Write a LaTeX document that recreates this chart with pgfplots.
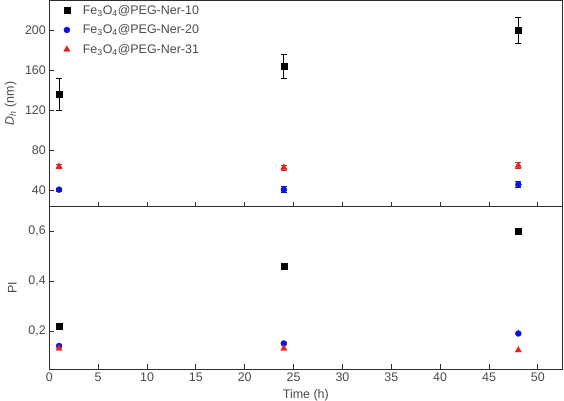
\documentclass[border=0pt]{standalone}
\usepackage{fontspec}
\setmainfont{Liberation Sans}
\usepackage{pgfplots}
\pgfplotsset{compat=1.18}

\definecolor{axgray}{HTML}{2E2E2E}
\definecolor{txtgray}{HTML}{4A4A4A}
\definecolor{ored}{HTML}{E8201C}
\definecolor{oblue}{HTML}{0A14E6}

\newcommand{\lblfont}{\fontsize{12.5}{14}\selectfont}

\pgfplotsset{
  panel/.style={
    scale only axis, width=513bp,
    xmin=0, xmax=52.5, xtick={0,5,...,50},
    tick align=inside, xtick pos=bottom, ytick pos=left,
    minor tick num=0,
    axis line style={axgray, line width=0.8pt},
    major tick style={axgray, line width=0.8pt},
    major tick length=5bp,
    tick label style={font=\lblfont, text=txtgray},
    /pgf/number format/assume math mode=true,
    every axis plot/.append style={only marks},
  },
  errs/.style={error bars/.cd, y dir=both, y explicit,
    error bar style={line width=0.8pt, #1},
    error mark options={rotate=90, mark size=3bp, line width=0.8pt, #1}},
  sq/.style={mark=square*, mark size=2.9bp, black, mark options={fill=black}},
  ci/.style={mark=*, mark size=3bp, oblue, mark options={fill=oblue}},
  tr/.style={mark=triangle*, mark size=3.6bp, ored, mark options={fill=ored}},
}

\begin{document}
\begin{tikzpicture}
\useasboundingbox (-49.3bp,-32bp) rectangle (514.7bp,369bp);

% upper panel: hydrodynamic diameter
\begin{axis}[panel,
  at={(0bp,162.3bp)}, anchor=south west, height=206.7bp,
  ymin=24, ymax=230, ytick={40,80,...,200},
  xticklabels={},
  ylabel={\textit{D}\textsubscript{\textit{h}} (nm)},
  every axis y label/.style={at={(axis description cs:-0.0755,0.5)}, rotate=90, anchor=center, font=\lblfont, text=txtgray},
  legend image code/.code={\path[draw=none,fill=none] (-14bp,-4bp) rectangle (14bp,4bp); \draw[#1] plot coordinates {(0bp,0bp)};},
  legend style={at={(axis description cs:0,1)}, anchor=north west, xshift=3.4bp, yshift=-3bp,
    draw=none, fill=none, inner sep=0pt, row sep=5bp,
    font=\lblfont, text=txtgray, cells={anchor=west}},
]
\addplot+[sq, errs=black] coordinates {
  (1,136) +- (0,16)
  (24,164) +- (0,12)
  (48,200) +- (0,13)
};
\addlegendentry{Fe\textsubscript{3}O\textsubscript{4}@PEG-Ner-10}
\addplot+[ci, errs=oblue] coordinates {
  (1,41) +- (0,1.5)
  (24,41) +- (0,3)
  (48,46) +- (0,3)
};
\addlegendentry{Fe\textsubscript{3}O\textsubscript{4}@PEG-Ner-20}
\addplot+[tr, errs=ored] coordinates {
  (1,64) +- (0,2)
  (24,63) +- (0,2.5)
  (48,65) +- (0,3)
};
\addlegendentry{Fe\textsubscript{3}O\textsubscript{4}@PEG-Ner-31}
\end{axis}

% lower panel: polydispersity index
\begin{axis}[panel,
  at={(0bp,0bp)}, anchor=south west, height=162.3bp,
  ymin=0.048, ymax=0.697, ytick={0.2,0.4,0.6},
  yticklabel style={/pgf/number format/.cd, fixed, fixed zerofill, precision=1, use comma},
  xlabel={Time (h)}, ylabel={PI},
  every axis y label/.style={at={(axis description cs:-0.072,0.5)}, rotate=90, anchor=center, font=\lblfont, text=txtgray},
  every axis x label/.style={at={(axis description cs:0.5,0)}, yshift=-26bp, anchor=center, font=\lblfont, text=txtgray},
]
\addplot+[sq] coordinates {(1,0.22) (24,0.46) (48,0.60)};
\addplot+[ci] coordinates {(1,0.14) (24,0.15) (48,0.19)};
\addplot+[tr] coordinates {(1,0.13) (24,0.13) (48,0.123)};
\end{axis}
\end{tikzpicture}
\end{document}
